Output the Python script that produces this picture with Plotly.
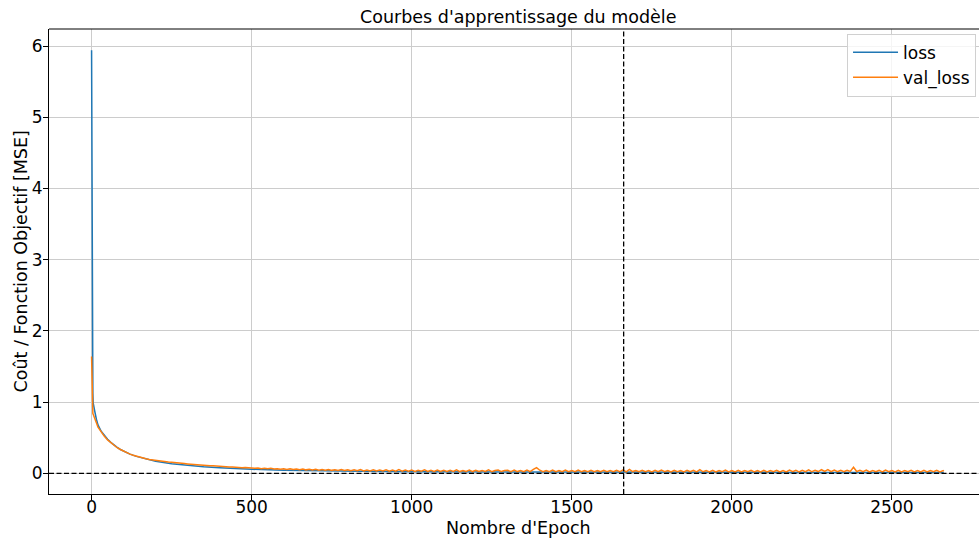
import plotly.graph_objects as go

# Training history (MSE) recorded per epoch; early epochs listed individually,
# later ones every 10 epochs for the validation curve.
loss_epochs = [0, 1, 2, 3, 4, 5, 6, 8, 10, 15, 20, 30, 40, 50, 60, 70, 80, 90, 100,
               120, 140, 160, 180, 200, 250, 300, 350, 400, 450, 500, 600, 700,
               800, 900, 1000, 1200, 1400, 1600, 1800, 2000, 2200, 2400, 2662]
loss = [5.94, 3.30, 2.40, 1.50, 1.12, 0.99, 0.95, 0.91, 0.87, 0.76, 0.68, 0.59,
        0.53, 0.48, 0.435, 0.395, 0.365, 0.335, 0.31, 0.27, 0.238, 0.212, 0.19,
        0.17, 0.135, 0.11, 0.092, 0.078, 0.066, 0.057, 0.044, 0.035, 0.029,
        0.025, 0.022, 0.019, 0.017, 0.016, 0.015, 0.014, 0.013, 0.013, 0.012]

val_epochs = ([0, 1, 2, 3, 4, 5, 6, 8, 10, 15, 20, 30, 40, 50, 60, 70, 80, 90,
               100, 110, 120, 130, 140, 150, 160, 170, 180, 190]
              + list(range(200, 2661, 10)) + [2662])
val_loss = [
    1.64, 1.18, 0.87, 0.84, 0.84, 0.83, 0.82, 0.80, 0.78, 0.71, 0.65, 0.58,
    0.52, 0.47, 0.43, 0.39, 0.36, 0.335, 0.31, 0.29, 0.27, 0.255, 0.24, 0.228,
    0.216, 0.205, 0.196, 0.188,
    0.182, 0.176, 0.170, 0.165, 0.158, 0.155, 0.148, 0.146, 0.140, 0.137,
    0.133, 0.128, 0.126, 0.120, 0.119, 0.114, 0.113, 0.107, 0.106, 0.101,
    0.100, 0.094, 0.095, 0.089, 0.090, 0.084, 0.086, 0.079, 0.082, 0.075,
    0.078, 0.070, 0.075, 0.066, 0.072, 0.063, 0.070, 0.060, 0.066, 0.058,
    0.065, 0.055, 0.063, 0.053, 0.060, 0.051, 0.061, 0.049, 0.057, 0.048,
    0.056, 0.045, 0.054, 0.044, 0.055, 0.042, 0.051, 0.041, 0.053, 0.040,
    0.050, 0.038, 0.049, 0.036, 0.052, 0.035, 0.047, 0.034, 0.050, 0.033,
    0.047, 0.032, 0.049, 0.031, 0.046, 0.030, 0.052, 0.030, 0.045, 0.029,
    0.046, 0.028, 0.044, 0.029, 0.050, 0.027, 0.043, 0.028, 0.047, 0.026,
    0.044, 0.027, 0.042, 0.026, 0.049, 0.025, 0.041, 0.027, 0.046, 0.025,
    0.043, 0.025, 0.040, 0.026, 0.048, 0.024, 0.041, 0.046, 0.025, 0.039,
    0.042, 0.024, 0.047, 0.025, 0.040, 0.024, 0.045, 0.023, 0.055, 0.080,
    0.044, 0.024, 0.041, 0.023, 0.045, 0.024, 0.040, 0.023, 0.046, 0.024,
    0.041, 0.023, 0.046, 0.024, 0.039, 0.022, 0.043, 0.023, 0.040, 0.022,
    0.044, 0.023, 0.039, 0.022, 0.042, 0.022, 0.048, 0.021, 0.055, 0.025,
    0.040, 0.022, 0.044, 0.022, 0.038, 0.021, 0.042, 0.022, 0.047, 0.022,
    0.039, 0.021, 0.043, 0.022, 0.038, 0.021, 0.041, 0.022, 0.044, 0.021,
    0.052, 0.022, 0.039, 0.021, 0.042, 0.021, 0.038, 0.022, 0.045, 0.021,
    0.039, 0.021, 0.043, 0.021, 0.038, 0.022, 0.042, 0.021, 0.039, 0.021,
    0.044, 0.021, 0.038, 0.022, 0.043, 0.021, 0.039, 0.021, 0.046, 0.022,
    0.041, 0.021, 0.044, 0.023, 0.049, 0.022, 0.042, 0.025, 0.051, 0.026,
    0.053, 0.024, 0.046, 0.023, 0.043, 0.022, 0.044, 0.027, 0.085, 0.026,
    0.043, 0.022, 0.047, 0.021, 0.040, 0.022, 0.042, 0.021, 0.045, 0.022,
    0.040, 0.021, 0.043, 0.021, 0.039, 0.022, 0.042, 0.021, 0.040, 0.021,
    0.042, 0.021, 0.039, 0.022, 0.041, 0.021, 0.038,
    0.030,
]
assert len(loss) == len(loss_epochs)
assert len(val_loss) == len(val_epochs)

best_epoch = 1662          # epoch of best validation loss (early stopping)
x_ticks = [0, 500, 1000, 1500, 2000, 2500]
y_ticks = [0, 1, 2, 3, 4, 5, 6]

FONT = "DejaVu Sans"
LABEL_SIZE = 17.5

fig = go.Figure()
fig.add_trace(go.Scatter(x=loss_epochs, y=loss, mode="lines", name="loss",
                         line=dict(color="#1f77b4", width=1.5)))
fig.add_trace(go.Scatter(x=val_epochs, y=val_loss, mode="lines", name="val_loss",
                         line=dict(color="#ff7f0e", width=1.5)))

# reference lines: zero level and best epoch
dash_style = dict(color="black", width=1.3, dash="5px,2.5px")
fig.add_shape(type="line", xref="paper", yref="y", x0=0, x1=1, y0=0, y1=0,
              line=dash_style, layer="above")
fig.add_shape(type="line", xref="x", yref="paper", x0=best_epoch, x1=best_epoch,
              y0=0, y1=1, line=dash_style, layer="above")
# top spine
fig.add_shape(type="line", xref="paper", yref="paper", x0=0, x1=1, y0=1, y1=1,
              line=dict(color="black", width=1), layer="above")

fig.update_layout(
    width=979, height=539,
    margin=dict(l=49, r=0, t=29, b=45, pad=0),
    paper_bgcolor="white", plot_bgcolor="white",
    font=dict(family=FONT, size=17, color="black"),
    showlegend=True,
    legend=dict(x=0.9968, xanchor="right", y=0.99, yanchor="top",
                bgcolor="rgba(255,255,255,0.8)", bordercolor="#d0d0d0",
                borderwidth=1, font=dict(size=17), traceorder="normal",
                itemwidth=45),
    xaxis=dict(range=[-133, 2772], tickvals=x_ticks, showgrid=True,
               gridcolor="#cccccc", gridwidth=1, zeroline=False,
               showline=True, linecolor="black", linewidth=1,
               ticks="outside", ticklen=5, tickcolor="black",
               ticklabelstandoff=-7, tickfont=dict(size=17)),
    yaxis=dict(range=[-0.29, 6.24], tickvals=y_ticks, showgrid=True,
               gridcolor="#cccccc", gridwidth=1, zeroline=False,
               showline=True, linecolor="black", linewidth=1,
               ticks="outside", ticklen=5, tickcolor="black",
               ticklabelstandoff=-3, tickfont=dict(size=17)),
    annotations=[
        dict(text="Courbes d'apprentissage du modèle", xref="paper", yref="paper",
             x=(518 - 49) / 930, y=1, yshift=12, xanchor="center", yanchor="middle",
             showarrow=False, font=dict(size=LABEL_SIZE)),
        dict(text="Nombre d'Epoch", xref="paper", yref="paper",
             x=(518 - 49) / 930, y=0, yshift=-34, xanchor="center", yanchor="middle",
             showarrow=False, font=dict(size=LABEL_SIZE)),
        dict(text="Coût / Fonction Objectif [MSE]", xref="paper", yref="paper",
             x=0, xshift=-29, y=0.5, xanchor="center", yanchor="middle",
             textangle=-90, showarrow=False, font=dict(size=LABEL_SIZE)),
    ],
)

fig.write_html("out.html")
